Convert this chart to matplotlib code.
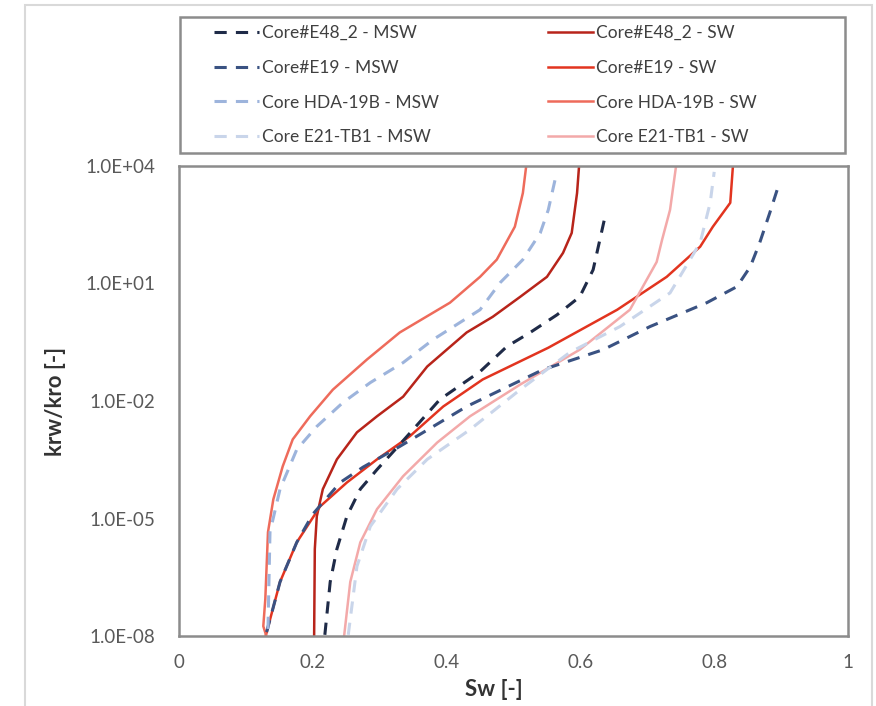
import numpy as np
import matplotlib.pyplot as plt
from matplotlib.patches import Rectangle

plt.rcParams['font.family'] = ['Lato', 'DejaVu Sans']

# Sw and log10(krw/kro)
e48_msw_sw = [0.218, 0.226, 0.236, 0.251, 0.271, 0.296, 0.330, 0.390, 0.450, 0.490, 0.525, 0.565, 0.599, 0.619, 0.629, 0.638]
e48_msw_lg = [-7.97, -6.62, -5.78, -4.94, -4.25, -3.75, -3.11, -1.96, -1.25, -0.61, -0.25, 0.20, 0.66, 1.35, 2.11, 2.80]

e19_msw_sw = [0.131, 0.151, 0.176, 0.200, 0.241, 0.275, 0.330, 0.430, 0.544, 0.634, 0.704, 0.789, 0.834, 0.854, 0.868, 0.883, 0.895]
e19_msw_lg = [-7.90, -6.62, -5.61, -4.89, -4.08, -3.69, -3.16, -2.14, -1.20, -0.69, -0.10, 0.51, 0.92, 1.43, 2.04, 2.80, 3.44]

hda_msw_sw = [0.133, 0.136, 0.151, 0.176, 0.206, 0.245, 0.286, 0.335, 0.380, 0.450, 0.480, 0.514, 0.540, 0.552, 0.562, 0.565]
hda_msw_lg = [-7.82, -5.35, -4.25, -3.24, -2.65, -2.04, -1.53, -1.02, -0.43, 0.33, 1.02, 1.61, 2.29, 2.88, 3.64, 3.85]

e21_msw_sw = [0.253, 0.266, 0.286, 0.326, 0.371, 0.435, 0.510, 0.584, 0.659, 0.734, 0.779, 0.794, 0.800]
e21_msw_lg = [-7.97, -6.22, -5.20, -4.25, -3.49, -2.73, -1.71, -0.76, -0.10, 0.76, 2.04, 3.06, 3.85]

e48_sw_sw = [0.202, 0.203, 0.206, 0.215, 0.236, 0.266, 0.296, 0.335, 0.371, 0.430, 0.469, 0.510, 0.550, 0.574, 0.587, 0.595, 0.598]
e48_sw_lg = [-7.97, -5.78, -4.94, -4.25, -3.49, -2.80, -2.39, -1.89, -1.12, -0.25, 0.15, 0.66, 1.17, 1.78, 2.29, 3.31, 4.0]

e19_sw_sw = [0.130, 0.151, 0.176, 0.211, 0.251, 0.296, 0.345, 0.395, 0.454, 0.552, 0.655, 0.729, 0.779, 0.798, 0.824, 0.828]
e19_sw_lg = [-7.97, -6.62, -5.61, -4.69, -4.08, -3.49, -2.90, -2.14, -1.45, -0.64, 0.33, 1.17, 1.94, 2.45, 3.06, 4.0]

hda_sw_sw = [0.130, 0.126, 0.129, 0.133, 0.141, 0.155, 0.170, 0.196, 0.230, 0.281, 0.330, 0.405, 0.450, 0.475, 0.502, 0.514, 0.519]
hda_sw_lg = [-7.97, -7.75, -7.06, -5.35, -4.51, -3.67, -2.98, -2.39, -1.71, -0.94, -0.25, 0.51, 1.17, 1.61, 2.45, 3.31, 4.0]

e21_sw_sw = [0.247, 0.256, 0.271, 0.296, 0.335, 0.386, 0.435, 0.510, 0.599, 0.674, 0.714, 0.722, 0.734, 0.743]
e21_sw_lg = [-7.97, -6.62, -5.61, -4.76, -3.92, -3.06, -2.39, -1.58, -0.69, 0.33, 1.55, 2.11, 2.88, 4.0]

y_ticks = [1e-8, 1e-5, 1e-2, 1e1, 1e4]
y_tick_labels = ['1.0E-08', '1.0E-05', '1.0E-02', '1.0E+01', '1.0E+04']
x_ticks = [0, 0.2, 0.4, 0.6, 0.8, 1]
x_tick_labels = ['0', '0.2', '0.4', '0.6', '0.8', '1']

W, H = 876, 706
fig = plt.figure(figsize=(W / 100, H / 100), dpi=100)
ax = fig.add_axes([179 / W, 1 - 636 / H, (848 - 179) / W, (636 - 166) / H])

dash = (4, 3)
series = [
    (e48_msw_sw, e48_msw_lg, 'Core#E48_2 - MSW', '#1f2b48', True),
    (e19_msw_sw, e19_msw_lg, 'Core#E19 - MSW', '#3a5282', True),
    (hda_msw_sw, hda_msw_lg, 'Core HDA-19B - MSW', '#9db4dc', True),
    (e21_msw_sw, e21_msw_lg, 'Core E21-TB1 - MSW', '#c9d5ea', True),
    (e48_sw_sw, e48_sw_lg, 'Core#E48_2 - SW', '#b8241a', False),
    (e19_sw_sw, e19_sw_lg, 'Core#E19 - SW', '#e2341f', False),
    (hda_sw_sw, hda_sw_lg, 'Core HDA-19B - SW', '#ee6b5b', False),
    (e21_sw_sw, e21_sw_lg, 'Core E21-TB1 - SW', '#f3a9a9', False),
]

handles = []
for sw, lg, name, col, dashed in series:
    kro = 10.0 ** np.array(lg)
    if dashed:
        ln, = ax.plot(sw, kro, color=col, lw=2.2, dashes=dash, label=name, zorder=3)
    else:
        ln, = ax.plot(sw, kro, color=col, lw=1.8, label=name, zorder=2)
    handles.append(ln)

ax.set_yscale('log')
ax.set_xlim(0, 1)
ax.set_ylim(1e-8, 1e4)
ax.set_yticks(y_ticks)
ax.set_yticklabels(y_tick_labels)
ax.minorticks_off()
ax.set_xticks(x_ticks)
ax.set_xticklabels(x_tick_labels)
ax.tick_params(length=0, labelsize=13.5, colors='#595959')
ax.tick_params(axis='y', pad=17)
ax.tick_params(axis='x', pad=13)
for s in ax.spines.values():
    s.set_color('#8c8c8c')
    s.set_linewidth(1.8)

ax.set_xlabel('Sw [-]', fontsize=16, fontweight='bold', color='#333333', va='center')
ax.xaxis.set_label_coords(0.47, (636 - 690) / 470)
ax.set_ylabel('krw/kro [-]', fontsize=16, fontweight='bold', color='#333333', va='center')
ax.yaxis.set_label_coords((55 - 179) / 669, 0.5)

# legend box drawn separately so the entries can be placed freely
fig.patches.append(Rectangle((180 / W, 1 - 153 / H), (845 - 180) / W, 136 / H,
                             transform=fig.transFigure, fill=False,
                             edgecolor='#8c8c8c', linewidth=1.8))
leg = fig.legend(handles=handles, ncol=2, loc='upper left',
                 bbox_to_anchor=(214 / W, 1 - 25 / H),
                 fontsize=12.5, frameon=False,
                 handlelength=2.6, handletextpad=0.15, columnspacing=6.3,
                 labelspacing=1.08, borderpad=0, borderaxespad=0)
for t in leg.get_texts():
    t.set_color('#404040')

# outer chart-area frame
fig.patches.append(Rectangle((25 / W, -0.05), (872 - 25) / W, 1.05 - 5 / H,
                             transform=fig.transFigure, fill=False,
                             edgecolor='#d9d9d9', linewidth=1.5))

fig.savefig('out.png', dpi=100)
